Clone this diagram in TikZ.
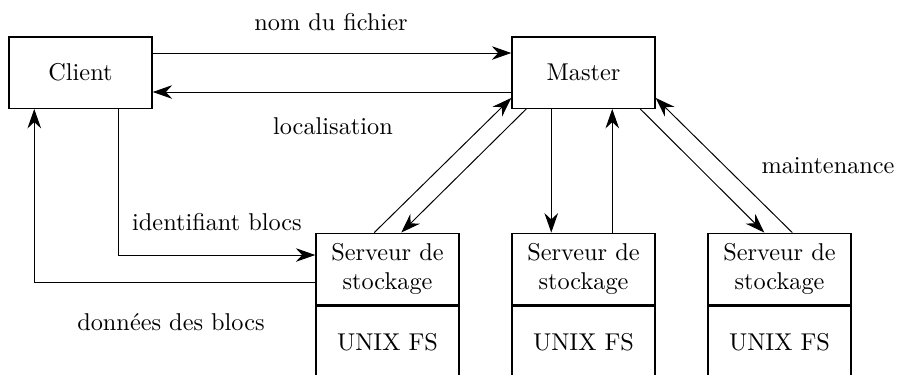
\documentclass[tikz,border=0pt]{standalone}
\usetikzlibrary{arrows.meta,calc}
\begin{document}
\begin{tikzpicture}[x=0.4115pt,y=-0.4115pt,
  box/.style={draw,semithick,minimum width=58.85pt,minimum height=29.4pt,inner sep=0pt,align=center},
  arr/.style={-{Stealth[length=8pt,width=5.6pt,inset=2.6pt]}},
  lbl/.style={inner sep=0pt}]
\path[use as bounding box,clip] (0,0) rectangle (898,374);
\node[box] (client) at (80.5,72.5) {Client};
\node[box] (master) at (583.5,72.5) {Master};
\foreach \i/\x in {1/387.5,2/583.5,3/779.5}{
  \node[box] (s\i) at (\x,269) {Serveur de\\stockage};
  \node[box,minimum height=29.6pt,anchor=north] (f\i) at (s\i.south) {UNIX FS};
}
% client <-> master
\draw[arr] ($(client.east)+(0,-19.5)$) -- ($(master.west)+(0,-19.5)$);
\draw[arr] ($(master.west)+(0,19.5)$) -- ($(client.east)+(0,19.5)$);
\node[lbl] (l1) at (331,22) {nom du fichier};
\node[lbl] (l2) at (333,126) {localisation};
% client <-> storage 1
\draw[arr] ($(client.south west)+(110,0)$) |- ($(s1.west)+(0,-14)$);
\draw[arr] ($(s1.west)+(0,13.7)$) -| ($(client.south west)+(26,0)$);
\node[lbl] (l3) at (217,222) {identifiant blocs};
\node[lbl] (l4) at (171,322) {données des blocs};
% master <-> storages
\draw[arr] ($(s1.north west)+(59,0)$) -- ($(master.south west)+(0,-11)$);
\draw[arr] ($(master.south west)+(15,0)$) -- ($(s1.north west)+(86,0)$);
\draw[arr] ($(master.south west)+(40,0)$) -- ($(s2.north west)+(40,0)$);
\draw[arr] ($(s2.north west)+(101,0)$) -- ($(master.south west)+(101,0)$);
\draw[arr] ($(master.south west)+(129,0)$) -- ($(s3.north west)+(57,0)$);
\draw[arr] ($(s3.north west)+(85,0)$) -- ($(master.south east)+(0,-11)$);
\node[lbl] (l5) at (828,166) {maintenance};
\end{tikzpicture}
\end{document}
